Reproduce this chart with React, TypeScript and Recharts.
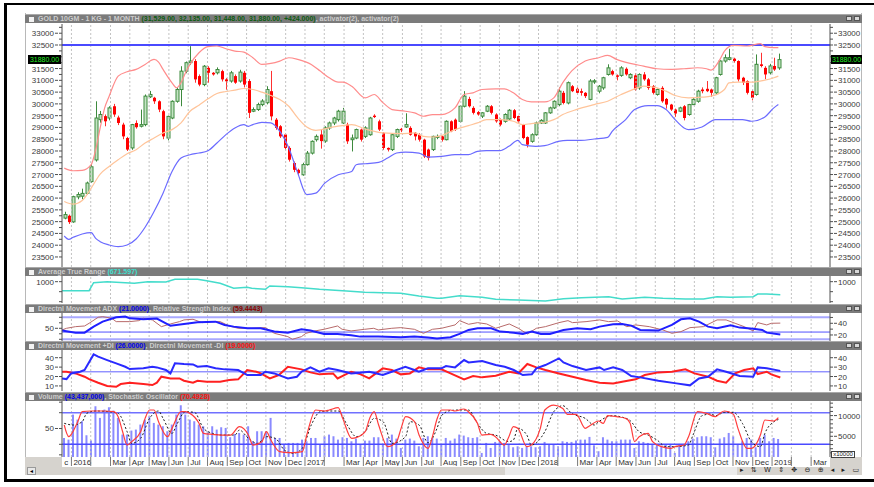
import React from 'react';
import { ComposedChart, Bar, Line, XAxis, YAxis, ReferenceLine } from 'recharts';

// weekly candles, Dec 2015 .. Jan 2019 (160 weeks)
const opens = [
  25150, 25250, 24990, 26050, 26080, 26200, 26700, 27620, 29330, 29480,
  29400, 29900, 29420, 29120, 28550, 28130, 29190, 29050, 29120, 30300,
  30260, 30110, 29690, 28550, 29400, 30110, 30610, 31390, 31750, 31820,
  31180, 30820, 31530, 31320, 31320, 31390, 31040, 30970, 31180, 30970,
  31320, 30970, 29690, 29760, 29970, 30050, 30540, 29330, 29050, 28700,
  28130, 27490, 27200, 26990, 27420, 27910, 28480, 28700, 28420, 28980,
  29190, 29330, 29190, 29120, 28480, 28550, 28910, 28620, 28690, 29500,
  29260, 28770, 28130, 28060, 28620, 28940, 29020, 28980, 28770, 28690,
  28480, 28060, 28060, 28580, 28620, 28480, 29260, 29330, 29260, 29900,
  30210, 29830, 29650, 29480, 29690, 29900, 29550, 29330, 29260, 29360,
  29730, 29480, 29120, 28590, 28410, 28690, 29190, 29190, 29620, 29830,
  29970, 30470, 30040, 30750, 30640, 30540, 30470, 30190, 30930, 30540,
  30680, 31250, 31390, 31210, 31210, 31490, 31110, 31210, 30680, 31250,
  31040, 30750, 30400, 30680, 30210, 29970, 29760, 29690, 29900, 29550,
  29970, 30110, 30610, 30640, 30610, 30470, 31250, 31820, 31890, 31920,
  31820, 31110, 30970, 30540, 30400, 31680, 31530, 31320, 31610, 31529,
];
const highs = [
  25420, 25300, 26100, 26250, 26400, 26700, 27450, 30110, 29700, 29550,
  29900, 30000, 29500, 29200, 28600, 29150, 29300, 29760, 30400, 30550,
  30300, 30150, 29750, 29500, 30150, 30700, 31600, 31800, 32450, 31900,
  31250, 31650, 31600, 31350, 31550, 31450, 31100, 31400, 31250, 31450,
  31400, 31050, 29850, 30050, 30200, 30750, 31400, 29400, 29100, 28750,
  28200, 27550, 27250, 27500, 28000, 28450, 28700, 28900, 29050, 29250,
  29450, 29750, 29830, 29200, 28700, 28950, 28950, 29050, 29450, 29560,
  29330, 28800, 28150, 28750, 28950, 28980, 29600, 29050, 28800, 28750,
  28520, 28100, 28650, 28700, 28650, 29300, 29300, 29380, 29950, 30540,
  30300, 29900, 29700, 29650, 29950, 29950, 29600, 29380, 29600, 29780,
  29780, 29500, 29150, 28620, 28750, 29250, 29350, 29650, 29880, 30150,
  30700, 30550, 30950, 30800, 30700, 30650, 30500, 31050, 31050, 30800,
  31150, 31680, 31450, 31250, 31600, 31550, 31300, 31300, 31300, 31350,
  31100, 30800, 30650, 30750, 30250, 30000, 29800, 29880, 29950, 30000,
  30250, 30600, 30700, 30970, 30650, 31150, 31850, 32100, 32340, 31960,
  31850, 31150, 31000, 30600, 32100, 32170, 31600, 31700, 31960, 32135,
];
const lows = [
  25100, 24900, 24950, 25950, 25950, 26150, 26650, 27550, 29200, 29050,
  29300, 29450, 29100, 28500, 28000, 28050, 28950, 29000, 29050, 30250,
  30000, 29650, 28500, 28450, 29350, 30050, 29900, 31300, 31650, 30900,
  30750, 30750, 30900, 31200, 31250, 30950, 30600, 30900, 30850, 30900,
  30700, 29400, 29650, 29700, 29900, 29980, 29300, 28900, 28550, 28050,
  27550, 27100, 26950, 26950, 27380, 27850, 28400, 28100, 28350, 28900,
  29100, 29250, 29150, 28300, 27980, 28500, 28400, 28550, 28650, 29400,
  28850, 28050, 27980, 28000, 28550, 28800, 28980, 28650, 28450, 28400,
  27700, 27600, 28000, 28500, 28400, 28450, 28800, 28850, 29200, 29850,
  29850, 29550, 29500, 29400, 29650, 29550, 29200, 29050, 29200, 29300,
  29350, 29200, 28500, 28150, 28350, 28650, 29150, 29150, 29580, 29780,
  29900, 29980, 29980, 30500, 30400, 30350, 30250, 30150, 30850, 30450,
  30600, 31200, 31200, 31000, 31150, 31200, 31050, 30550, 30600, 30980,
  30600, 30400, 30350, 30050, 29800, 29700, 29450, 29650, 29300, 29500,
  29950, 30050, 30450, 30500, 30300, 30400, 31200, 31750, 31850, 31750,
  30950, 30800, 30400, 30150, 30350, 31550, 31050, 31250, 31400, 31448,
];
const closes = [
  25300, 24980, 26060, 26150, 26200, 26640, 27330, 29400, 29550, 29260,
  29830, 29550, 29190, 28620, 28060, 29120, 29010, 29120, 30330, 30400,
  30110, 29760, 28620, 29470, 30110, 30610, 31390, 31750, 31820, 31040,
  30820, 31600, 31320, 31250, 31460, 31040, 30960, 31320, 30900, 31350,
  30820, 29620, 29760, 29970, 30120, 30610, 29470, 28980, 28620, 28130,
  27630, 27200, 27060, 27420, 27910, 28410, 28620, 28420, 28980, 29190,
  29400, 29690, 29690, 28410, 28550, 28910, 28480, 28980, 29400, 29440,
  28910, 28130, 28060, 28690, 28910, 28880, 29120, 28690, 28620, 28480,
  27770, 27700, 28620, 28620, 28480, 29260, 28840, 28910, 29900, 30330,
  29900, 29620, 29550, 29620, 29900, 29620, 29260, 29120, 29550, 29730,
  29400, 29260, 28550, 28270, 28690, 29190, 29300, 29620, 29830, 30110,
  30540, 30040, 30900, 30540, 30470, 30470, 30330, 30970, 30980, 30750,
  31110, 31530, 31250, 31150, 31530, 31250, 31250, 30610, 31250, 31040,
  30680, 30470, 30610, 30110, 29970, 29760, 29590, 29830, 29400, 29970,
  30190, 30540, 30540, 30540, 30470, 31110, 31820, 31960, 31960, 31820,
  31040, 30900, 30470, 30260, 31680, 31610, 31250, 31610, 31460, 31880,
];
// volume in units of 10000
const volume = [
  4600, 4200, 10240, 9030, 8630, 5250, 4000, 12250, 9440, 11450,
  12010, 11210, 9440, 5410, 5410, 6380, 6620, 7830, 9030, 9840,
  8230, 7830, 7420, 6220, 7830, 10240, 12490, 10240, 9030, 8630,
  7830, 7420, 6220, 7420, 6620, 7180, 7020, 4770, 5570, 5810,
  5410, 7420, 3800, 6220, 6220, 6220, 9440, 4600, 4600, 3160,
  3400, 3400, 3400, 4200, 3800, 4600, 4600, 3160, 5010, 5410,
  5010, 4200, 4770, 4600, 3800, 4440, 3000, 3960, 3960, 4770,
  4770, 3000, 4600, 5410, 4440, 2190, 4200, 4440, 3960, 2590,
  4600, 5010, 4600, 4440, 3000, 4600, 3960, 4440, 5410, 5170,
  4770, 4600, 4770, 980, 3400, 2190, 3640, 3800, 3400, 3000,
  2350, 2590, 2190, 2590, 2590, 2350, 2590, 3640, 3000, 3000,
  2590, 3800, 3640, 3640, 3960, 4200, 4200, 4850, 2830, 1390,
  4770, 4200, 3800, 3800, 4200, 4200, 4200, 2190, 3800, 3640,
  3400, 3000, 3000, 2750, 3000, 3160, 980, 3160, 3000, 3800,
  4440, 4770, 5010, 5010, 4770, 2350, 4440, 4770, 5810, 5010,
  3160, 3800, 4600, 4200, 2350, 4600, 5410, 3800, 4600, 4344,
];

// [week, value] readings
const bbUpper = [
  [0, 27274], [2, 27161], [4, 27175], [6, 27416], [7, 28055], [8, 28978], [9, 29830], [10, 30327],
  [12, 31179], [14, 31364], [16, 31463], [18, 31676], [20, 31889], [21, 31775], [22, 31463],
  [24, 30895], [25, 30682], [26, 30895], [27, 31321], [28, 31676], [30, 32173], [32, 32429],
  [34, 32457], [36, 32343], [38, 32244], [40, 32201], [42, 31960], [44, 31676], [46, 31719],
  [48, 31818], [50, 31960], [52, 31889], [55, 31676], [57, 31392], [59, 31108], [61, 30923],
  [62, 30923], [64, 30753], [67, 30256], [69, 30398], [71, 30043], [73, 29759], [76, 29688],
  [78, 29617], [80, 29475], [82, 29546], [84, 29546], [87, 29830], [89, 30398], [91, 30469],
  [93, 30611], [96, 30640], [98, 30640], [100, 30469], [102, 30185], [104, 30086], [107, 30086],
  [109, 30256], [111, 30900], [113, 31400], [116, 31818], [119, 31960], [121, 32059], [123, 31889],
  [126, 31719], [129, 31605], [132, 31491], [135, 31463], [138, 31491], [141, 31534], [143, 31491],
  [144, 31435], [146, 31889], [147, 32244], [149, 32485], [152, 32457], [155, 32556], [156, 32429],
  [158, 32386], [159, 32386],
];
const bbMiddle = [
  [0, 25854], [2, 25741], [4, 25897], [6, 26422], [8, 27019], [10, 27345], [12, 27629], [14, 27885],
  [16, 28055], [18, 28339], [20, 28552], [22, 28765], [24, 28907], [26, 29191], [28, 29688],
  [30, 29944], [32, 30213], [34, 30441], [36, 30526], [38, 30583], [40, 30654], [42, 30611],
  [44, 30497], [46, 30355], [48, 30185], [50, 29901], [52, 29404], [54, 29021], [56, 28879],
  [60, 29021], [64, 29120], [67, 28935], [71, 28765], [75, 28737], [78, 28765], [80, 28623],
  [82, 28594], [84, 28652], [87, 28907], [90, 29078], [92, 29191], [94, 29333], [97, 29333],
  [100, 29262], [102, 29120], [104, 29163], [107, 29220], [109, 29333], [111, 29546], [114, 29759],
  [118, 29972], [121, 30114], [124, 30398], [127, 30640], [129, 30753], [132, 30682], [134, 30540],
  [136, 30355], [139, 30256], [142, 30284], [144, 30327], [147, 30611], [148, 30895], [150, 30923],
  [153, 30923], [156, 31009], [158, 31108], [159, 31179],
];
const bbLower = [
  [0, 24391], [1, 24249], [2, 24335], [4, 24477], [6, 24533], [7, 24292], [8, 24150], [10, 24008],
  [12, 23937], [14, 24008], [16, 24264], [18, 24761], [20, 25428], [22, 26209], [24, 27132],
  [26, 27700], [28, 27842], [30, 27913], [32, 28012], [34, 28339], [36, 28694], [38, 28978],
  [40, 29120], [41, 29049], [42, 29120], [44, 29219], [46, 29191], [48, 28836], [50, 28126],
  [52, 27061], [54, 26150], [56, 26209], [58, 26635], [61, 26990], [64, 27132], [65, 27416],
  [67, 27459], [70, 27515], [72, 27700], [74, 27913], [76, 27955], [79, 27913], [81, 27743],
  [84, 27771], [87, 27842], [90, 27842], [92, 27984], [94, 28012], [97, 28012], [99, 28197],
  [101, 28453], [102, 28268], [105, 28197], [107, 28225], [110, 28410], [112, 28453], [115, 28453],
  [118, 28509], [121, 28580], [122, 28836], [125, 29333], [127, 29759], [130, 29929], [132, 29929],
  [134, 29759], [136, 29333], [138, 28978], [139, 28907], [142, 29021], [145, 29333], [148, 29333],
  [151, 29333], [153, 29262], [156, 29447], [158, 29830], [159, 29972],
];
const atr = [
  [0, 775], [6, 775], [7, 975], [10, 1000], [16, 960], [19, 1000], [23, 990], [25, 1060], [30, 1060],
  [32, 1025], [35, 960], [38, 835], [41, 860], [42, 835], [45, 810], [46, 892], [50, 875], [53, 850],
  [57, 810], [63, 767], [67, 735], [75, 710], [79, 642], [83, 585], [84, 585], [88, 650], [93, 610],
  [96, 560], [101, 542], [107, 517], [111, 575], [115, 600], [121, 625], [124, 567], [129, 610],
  [133, 585], [138, 567], [142, 567], [145, 625], [148, 610], [153, 625], [154, 692], [156, 692],
  [159, 672],
];
const adx = [
  [0, 27.5], [3, 24], [5, 24], [7, 34.3], [9, 42.8], [12, 50.3], [14, 51.4], [15, 48.5], [18, 46.8],
  [21, 48], [23, 40], [24, 36], [27, 38.9], [30, 41.7], [34, 42.8], [36, 37.2], [38, 34.3], [41, 31.5],
  [44, 31.5], [47, 25.8], [50, 24], [53, 29.7], [55, 27.5], [58, 21.8], [61, 21.8], [64, 19.5],
  [66, 17.2], [70, 17.2], [75, 16.1], [78, 17.2], [81, 15.5], [83, 13.8], [86, 16.1], [88, 21.8],
  [90, 28.6], [92, 31.5], [95, 31.5], [97, 25.8], [100, 24], [102, 21.8], [104, 25.8], [106, 21.8],
  [108, 21.8], [111, 28.6], [114, 31.5], [117, 29.7], [119, 34.3], [122, 38.3], [124, 38.9],
  [126, 36], [128, 28.6], [132, 27.5], [135, 37.2], [137, 46.8], [139, 48.5], [141, 42.8], [143, 34.3],
  [145, 31.5], [148, 36.5], [150, 32.6], [153, 30.5], [155, 28.6], [156, 24], [159, 21],
];
const rsi = [
  [0, 47], [1, 50], [3, 53], [5, 54.2], [6, 59.1], [8, 70], [9, 71.2], [11, 68.2], [12, 62.1], [15, 62.1],
  [17, 63.9], [18, 68.2], [20, 65.2], [22, 53], [24, 57.9], [26, 62.1], [27, 65.2], [29, 66.4],
  [31, 60.3], [33, 62.1], [35, 62.1], [37, 54.2], [39, 50], [42, 50], [45, 51.2], [47, 40.9],
  [50, 34.8], [51, 30], [53, 34.8], [54, 40.9], [56, 45.2], [58, 48.2], [61, 54.2], [62, 48.2],
  [64, 45.2], [67, 48.2], [69, 50], [70, 47], [73, 50], [75, 51.2], [78, 48.2], [80, 40.9], [82, 48.2],
  [84, 50], [87, 56.1], [88, 63.9], [90, 57.3], [92, 60.3], [94, 57.9], [96, 50], [99, 57.9], [101, 50],
  [103, 39.7], [105, 50], [107, 53], [110, 60.3], [112, 63.9], [113, 60.3], [116, 62.1], [119, 65.2],
  [121, 62.1], [123, 63.3], [125, 53], [127, 56.1], [130, 53], [133, 47], [135, 40.9], [137, 43.9],
  [139, 51.2], [142, 53], [145, 65.2], [147, 65.2], [149, 59.1], [151, 53], [153, 45.2], [154, 60.3],
  [156, 56.1], [157, 59.1], [159, 59.4],
];
const plusDI = [
  [0, 18], [1, 17.3], [2, 23.3], [4, 25.1], [5, 26.9], [7, 43.5], [8, 41.1], [10, 37.5], [12, 34],
  [14, 30.4], [15, 27.9], [18, 28.7], [20, 30.4], [21, 29.7], [23, 26.9], [24, 23.3], [25, 34],
  [27, 33.3], [29, 32.9], [30, 30.4], [32, 31.1], [34, 28.7], [36, 27.6], [39, 26.9], [41, 21.6],
  [44, 21.6], [45, 25.1], [47, 23.3], [50, 18], [52, 19.8], [53, 25.1], [55, 29.7], [57, 25.1],
  [59, 28.7], [61, 26.9], [64, 23.3], [66, 24], [68, 25.1], [71, 21.6], [73, 25.1], [76, 30.4],
  [78, 26.9], [79, 25.1], [81, 28.7], [84, 28.7], [85, 31.1], [87, 29.7], [89, 37.5], [90, 35],
  [93, 36.5], [96, 32.2], [98, 30.4], [100, 26.9], [102, 21.6], [104, 22.3], [105, 28.7], [107, 32.2],
  [110, 39.3], [111, 35], [113, 31.1], [116, 26.9], [119, 29.7], [120, 26.9], [122, 29.7], [124, 26.9],
  [126, 20.5], [128, 19.1], [132, 15.5], [136, 12.7], [139, 10.6], [141, 18], [143, 19.8], [145, 27.6],
  [147, 25.1], [150, 20.5], [153, 19.8], [154, 29.7], [156, 28.7], [159, 26],
];
const minusDI = [
  [0, 25.1], [1, 25.1], [3, 23.3], [5, 19.8], [6, 17.3], [8, 13.4], [10, 9.9], [12, 9.1], [13, 12],
  [15, 13.4], [18, 12], [20, 10.9], [21, 13.4], [22, 19.8], [24, 18], [26, 18], [27, 15.5], [29, 13.4],
  [30, 15.5], [32, 14.5], [35, 14.5], [37, 16.2], [39, 17], [41, 26.9], [43, 25.1], [44, 23.3],
  [46, 18], [48, 21.6], [50, 30.4], [53, 27.6], [55, 24.4], [57, 22.3], [60, 23.3], [61, 18],
  [64, 25.1], [66, 22.6], [68, 18], [71, 28.7], [73, 26.9], [75, 22.3], [77, 23.3], [79, 29.7],
  [81, 27.6], [84, 27.6], [86, 23.3], [89, 17], [91, 20.5], [93, 19.1], [96, 20.9], [99, 25.1],
  [101, 23.3], [103, 33.3], [105, 29.7], [107, 26.9], [110, 23.3], [113, 19.8], [116, 16.2],
  [119, 13.4], [122, 12.7], [124, 14.5], [127, 17], [129, 21.6], [132, 24.4], [135, 25.1], [138, 27.6],
  [140, 23.3], [143, 19.8], [145, 15.5], [147, 13.4], [149, 23.3], [151, 26.9], [153, 28.7],
  [154, 22.6], [156, 25.1], [157, 22.3], [159, 19],
];
const stochK = [
  [0, 56.6], [1, 34.5], [3, 62.9], [4, 81.9], [6, 83.2], [9, 83.2], [11, 81.9], [12, 72.4], [13, 43.9],
  [14, 18.6], [15, 25], [17, 43.9], [18, 69.2], [19, 85.1], [20, 85.1], [21, 62.9], [23, 34.5],
  [24, 50.3], [26, 81.9], [27, 81.9], [28, 78.7], [30, 59.8], [31, 40.8], [33, 38.9], [35, 37.6],
  [37, 37.6], [39, 53.4], [41, 37.6], [42, 18.6], [44, 25], [45, 43.9], [46, 28.1], [48, 6], [50, 4.1],
  [51, 4.1], [53, 6], [54, 37.6], [56, 85.1], [58, 83.2], [59, 85.1], [61, 89.5], [62, 69.2], [64, 31.3],
  [65, 32.6], [67, 43.9], [68, 69.2], [69, 81.9], [70, 56.6], [72, 15.5], [74, 25], [75, 50.3],
  [76, 72.4], [78, 62.9], [79, 37.6], [81, 12.3], [82, 35], [83, 68], [84, 85.1], [86, 85.1],
  [87, 83.2], [89, 87], [90, 81.9], [92, 59.8], [93, 37.6], [95, 38.9], [96, 34.5], [98, 18.6],
  [99, 34.5], [100, 53.4], [101, 50.3], [103, 15.5], [104, 18.6], [106, 50.3], [107, 85.1], [109, 94.5],
  [111, 88], [112, 76.8], [114, 76.8], [116, 50.3], [117, 55.3], [119, 64.2], [120, 59.8], [121, 74.3],
  [123, 72.4], [125, 69.2], [126, 59.8], [127, 25], [128, 34.5], [130, 40.8], [131, 25], [133, 15.5],
  [135, 12.3], [136, 15.5], [138, 18.6], [139, 34.5], [141, 81.9], [143, 78.7], [145, 72.4], [146, 78.7],
  [147, 83.2], [149, 76.8], [150, 50.3], [152, 12.3], [153, 12.3], [155, 37.6], [156, 66.1], [158, 64.2],
  [159, 70.5],
];
const stochD = [
  [0, 59.8], [2, 56.6], [4, 62.9], [5, 78.7], [7, 83.2], [10, 81.9], [12, 78.7], [14, 43.9], [15, 21.8],
  [17, 31.3], [19, 69.2], [21, 83.2], [22, 69.2], [24, 40.8], [25, 56.6], [27, 81.9], [29, 80.6],
  [31, 50.3], [33, 40.8], [35, 37.6], [38, 37.6], [39, 47.1], [41, 31.3], [43, 21.8], [45, 34.5],
  [47, 31.3], [49, 9.2], [51, 2.9], [53, 12.3], [55, 56.6], [57, 81.9], [59, 83.2], [61, 83.2],
  [63, 56.6], [65, 34.5], [67, 43.9], [69, 69.2], [71, 62.9], [73, 21.8], [76, 34.5], [77, 62.9],
  [79, 56.6], [81, 23], [83, 50.3], [84, 74.3], [86, 84.1], [88, 85.1], [90, 85.1], [92, 59.8],
  [94, 40.8], [96, 37.6], [99, 25], [100, 28.1], [101, 50.3], [103, 37.6], [104, 18.6], [107, 43.9],
  [109, 81.9], [111, 93.3], [113, 78.7], [116, 69.2], [118, 56.6], [119, 62.9], [122, 74.3], [124, 72],
  [126, 65], [128, 43.9], [130, 37.6], [132, 28.1], [134, 15.5], [136, 15.5], [139, 18.6], [140, 37.6],
  [142, 74.3], [144, 77.5], [145, 74.3], [147, 80.6], [149, 80.6], [151, 59.8], [153, 25], [155, 15.5],
  [156, 40.8], [158, 62.9], [159, 67],
];

// month starts (in weeks) and their labels; '' = separator only
const monthPos = [
  -0.45, 1.6, 5.9, 10.3, 14.6, 18.9, 23.3, 27.6, 31.9, 36.3, 40.6, 44.9, 49.3,
  53.6, 57.9, 62.3, 66.6, 70.9, 75.3, 79.6, 83.9, 88.3, 92.6, 96.9, 101.3,
  105.6, 109.9, 114.3, 118.6, 122.9, 127.3, 131.6, 135.9, 140.3, 144.6, 148.9, 153.3,
  157.6, 161.9, 166.3,
];
const monthLabels = [
  'c', '2016', '', 'Mar', 'Apr', 'May', 'Jun', 'Jul', 'Aug', 'Sep', 'Oct', 'Nov', 'Dec',
  '2017', '', 'Mar', 'Apr', 'May', 'Jun', 'Jul', 'Aug', 'Sep', 'Oct', 'Nov', 'Dec',
  '2018', '', 'Mar', 'Apr', 'May', 'Jun', 'Jul', 'Aug', 'Sep', 'Oct', 'Nov', 'Dec',
  '2019', '', 'Mar',
];

// 32000 sits under the last-price box, so it carries no label
const priceLabels = [23500, 24000, 24500, 25000, 25500, 26000, 26500, 27000, 27500, 28000,
  28500, 29000, 29500, 30000, 30500, 31000, 31500, 32500, 33000];
const priceTicks = [...priceLabels, 32000].flatMap((v) => [v, v + 250]);

const WEEKS = 171;
const PLOT_L = 62;
const PLOT_R = 830;
const FONT = '"Liberation Sans", Arial, sans-serif';
const M = { top: 0, right: 12, bottom: 0, left: 22 };

const rows: any[] = Array.from({ length: WEEKS }, (_, i) => ({ i }));
opens.forEach((o, i) => {
  Object.assign(rows[i], { o, h: highs[i], l: lows[i], c: closes[i], vol: volume[i] });
});
const put = (key: string, pts: number[][]) => pts.forEach(([i, v]) => { rows[i][key] = v; });
put('bbU', bbUpper);
put('bbM', bbMiddle);
put('bbL', bbLower);
put('atr', atr);
put('adx', adx);
put('rsi', rsi);
put('pdi', plusDI);
put('mdi', minusDI);
put('k', stochK);
put('d', stochD);

const Candle = (props: any) => {
  const { x, y, width, height, payload } = props;
  if (!payload || payload.o == null) return <g />;
  const top = Math.min(y, y + height);
  const h = Math.abs(height);
  const hi = Math.max(payload.h, payload.o, payload.c);
  const lo = Math.min(payload.l, payload.o, payload.c);
  const span = hi - lo || 1;
  const py = (v: number) => top + ((hi - v) / span) * h;
  const up = payload.c >= payload.o;
  const cx = Math.round(x + width / 2);
  const bTop = py(Math.max(payload.o, payload.c));
  const bH = Math.max(1, py(Math.min(payload.o, payload.c)) - bTop);
  const col = up ? '#3d8a3d' : '#ff0000';
  return (
    <g>
      <line x1={cx + 0.5} x2={cx + 0.5} y1={top} y2={top + h} stroke={up ? '#3d8a3d' : '#ff3030'} strokeWidth={1} />
      {up ? (
        <rect x={cx - 1} y={bTop} width={3} height={bH} fill="#c4e4c4" stroke={col} strokeWidth={1} />
      ) : (
        <rect x={cx - 1} y={bTop} width={3} height={bH} fill={col} />
      )}
    </g>
  );
};

const yTick = (side: 'left' | 'right', labels: number[]) => (p: any) => {
  const v = p.payload.value;
  const y = p.y;
  const major = labels.includes(v);
  const left = side === 'left';
  const x0 = left ? PLOT_L : PLOT_R;
  const dir = left ? -1 : 1;
  return (
    <g>
      <line x1={x0} x2={x0 + dir * 3} y1={y} y2={y} stroke="#505050" />
      {major && <line x1={x0 + dir * 4} x2={x0 + dir * 7} y1={y} y2={y} stroke="#505050" />}
      {major && (
        <text x={x0 + dir * 8} y={y + 3} textAnchor={left ? 'end' : 'start'} fontSize={8}
          fontFamily={FONT} fill="#3a3a3a">{v}</text>
      )}
    </g>
  );
};

const MonthTick = (p: any) => {
  const v = p.payload.value;
  const idx = monthPos.indexOf(v);
  const label = idx >= 0 ? monthLabels[idx] : '';
  const x = p.x;
  return (
    <g>
      {label !== 'c' && <line x1={x} x2={x} y1={56} y2={65} stroke="#7a7a7a" />}
      <text x={x + 2} y={63.5} fontSize={8} fontFamily={FONT} fill="#303030">{label}</text>
    </g>
  );
};

const gridLines = (yId: string) =>
  monthPos.slice(1).map((w) => (
    <ReferenceLine key={w} xAxisId="t" yAxisId={yId} x={w} stroke="#c2c2c2" strokeDasharray="2 2" />
  ));

const xAxes = [
  <XAxis key="c" dataKey="i" hide />,
  <XAxis key="t" xAxisId="t" dataKey="i" type="number" domain={[-0.5, WEEKS - 0.5]} hide allowDataOverflow />,
];

const line = (key: string, yId: string, stroke: string, width: number, curve: any = 'linear', dash?: string) => (
  <Line yAxisId={yId} dataKey={key} stroke={stroke} strokeWidth={width} type={curve}
    strokeDasharray={dash} dot={false} activeDot={false} connectNulls isAnimationActive={false} />
);

const axisProps = (id: string, side: 'left' | 'right', domain: number[], ticks: number[], labels: number[]) => ({
  yAxisId: id,
  orientation: side,
  width: side === 'left' ? 40 : 32,
  type: 'number' as const,
  domain,
  ticks,
  interval: 0 as const,
  allowDataOverflow: true,
  tickLine: false,
  axisLine: { stroke: '#505050' },
  tick: yTick(side, labels),
});

const TitleBar = ({ top, parts }: { top: number; parts: { t: string; c?: string }[] }) => (
  <div style={{
    position: 'absolute', left: 25, top, width: 837, height: 9, background: '#7b7b7b',
    borderTop: '1px solid #a9a9a9', boxSizing: 'border-box', font: `bold 7px ${FONT}`,
    lineHeight: '8px', color: '#cdcdcd', whiteSpace: 'nowrap', overflow: 'hidden',
  }}>
    <span style={{ display: 'inline-block', width: 5, height: 5, background: '#f2f2f2', margin: '0 4px 0 4px', verticalAlign: 'middle' }} />
    {parts.map((p, k) => <span key={k} style={{ color: p.c || '#cdcdcd' }}>{p.t}</span>)}
    <span style={{ position: 'absolute', right: 10, top: 1, width: 6, height: 5, background: '#d8d8d8', border: '1px solid #555', boxSizing: 'border-box' }} />
    <span style={{ position: 'absolute', right: 2, top: 1, width: 6, height: 5, background: '#d8d8d8', border: '1px solid #555', boxSizing: 'border-box' }} />
  </div>
);

const PriceBox = ({ left, width }: { left: number; width: number }) => (
  <div style={{
    position: 'absolute', left, top: 55, width, height: 9, background: '#000', color: '#22ee22',
    font: `7px ${FONT}`, lineHeight: '9px', textAlign: 'center', overflow: 'hidden', whiteSpace: 'nowrap',
  }}>31880.00</div>
);

const Pane = ({ top, children }: { top: number; children: React.ReactNode }) => (
  <div style={{ position: 'absolute', left: 0, top }}>{children}</div>
);

export default function App() {
  return (
    <div style={{ position: 'absolute', left: 0, top: 0, width: 874, height: 487, background: '#fff', overflow: 'hidden' }}>
      <div style={{ position: 'absolute', left: 4, top: 3, width: 890, height: 479, borderLeft: '3px solid #000', borderTop: '2px solid #000', borderBottom: '3px solid #000', boxSizing: 'border-box' }} />
      <div style={{ position: 'absolute', left: 25, top: 13, width: 837, height: 462, borderLeft: '1px solid #b8b8b8', borderRight: '1px solid #b8b8b8', boxSizing: 'border-box' }} />

      {/* x label row and scroll bar */}
      <div style={{ position: 'absolute', left: 25, top: 457, width: 37, height: 10, background: '#d6d3ce' }} />
      <div style={{ position: 'absolute', left: 830, top: 457, width: 32, height: 10, background: '#d6d3ce' }} />
      <div style={{ position: 'absolute', left: 25, top: 467, width: 837, height: 8, background: '#d6d3ce' }} />
      <div style={{ position: 'absolute', left: 505, top: 467, width: 232, height: 8, background: '#ebebeb' }} />
      <div style={{ position: 'absolute', left: 27, top: 467, width: 9, height: 8, background: '#e8e8e8', border: '1px solid #999', boxSizing: 'border-box', font: `6px ${FONT}`, lineHeight: '6px', textAlign: 'center' }}>◂</div>
      <div style={{ position: 'absolute', left: 740, top: 466, width: 122, height: 9, font: `7px "DejaVu Sans", sans-serif`, lineHeight: '9px', color: '#222', display: 'flex', justifyContent: 'space-between', paddingRight: 3, boxSizing: 'border-box' }}>
        <span>▸</span><span>⇅</span><span>W</span><span>⇕</span><span>✥</span><span>⊖</span><span>⊕</span><span>◂</span><span>▸</span><span>▭</span>
      </div>

      <TitleBar top={14} parts={[
        { t: 'GOLD 10GM - 1 KG - 1 MONTH ' },
        { t: '(31,529.00, 32,135.00, 31,448.00, 31,880.00, +424.000)', c: '#0c5c10' },
        { t: ', activator(2), activator(2)' },
      ]} />
      <TitleBar top={267} parts={[{ t: 'Average True Range ' }, { t: '(671.597)', c: '#40e0d0' }]} />
      <TitleBar top={304} parts={[
        { t: 'Directnl Movement ADX ' }, { t: '(21.0000)', c: '#0000ee' },
        { t: ', Relative Strength Index ' }, { t: '(59.4443)', c: '#8b0000' },
      ]} />
      <TitleBar top={341} parts={[
        { t: 'Directnl Movement +DI ' }, { t: '(26.0000)', c: '#0000ee' },
        { t: ', Directnl Movement -DI ' }, { t: '(19.0000)', c: '#ff1010' },
      ]} />
      <TitleBar top={392} parts={[
        { t: 'Volume ' }, { t: '(43,437,000)', c: '#0000ee' },
        { t: ', Stochastic Oscillator ' }, { t: '(70.4928)', c: '#ff1010' },
      ]} />

      {/* price pane */}
      <Pane top={24}>
        <ComposedChart width={874} height={243} data={rows} margin={M}>
          {xAxes}
          <YAxis {...axisProps('l', 'left', [23074, 33392], priceTicks, priceLabels)} />
          <YAxis {...axisProps('r', 'right', [23074, 33392], priceTicks, priceLabels)} />
          {gridLines('l')}
          <ReferenceLine yAxisId="l" y={32500} stroke="#4a4aff" strokeWidth={2} />
          {line('bbU', 'l', '#ff8c8c', 1.2, 'monotone')}
          {line('bbM', 'l', '#ffc49a', 1.2, 'monotone')}
          {line('bbL', 'l', '#6b6bff', 1.2, 'monotone')}
          <Bar yAxisId="l" dataKey={(d: any) => (d.o == null ? null : [d.l, d.h])} barSize={3}
            shape={Candle} isAnimationActive={false} />
        </ComposedChart>
      </Pane>
      <PriceBox left={28} width={33} />
      <PriceBox left={831} width={31} />

      {/* ATR */}
      <Pane top={276}>
        <ComposedChart width={874} height={27} data={rows} margin={M}>
          {xAxes}
          <YAxis {...axisProps('l', 'left', [467, 1142], [500, 750, 1000], [1000])} />
          <YAxis {...axisProps('r', 'right', [467, 1142], [500, 750, 1000], [1000])} />
          {gridLines('l')}
          {line('atr', 'l', '#44dccb', 1.5)}
        </ComposedChart>
      </Pane>

      {/* ADX / RSI */}
      <Pane top={313}>
        <ComposedChart width={874} height={28} data={rows} margin={M}>
          {xAxes}
          <YAxis {...axisProps('l', 'left', [26.9, 77.8], [30, 40, 50, 60, 70], [50])} />
          <YAxis {...axisProps('r', 'right', [9.7, 57.6], [20, 30, 40, 50], [20, 40])} />
          {gridLines('l')}
          <ReferenceLine yAxisId="l" y={70} stroke="#a8a8ff" strokeWidth={2} />
          <ReferenceLine yAxisId="l" y={30} stroke="#a8a8ff" strokeWidth={2} />
          <ReferenceLine yAxisId="r" y={25} stroke="#5050ff" strokeWidth={1} />
          {line('rsi', 'l', '#b86a6a', 1)}
          {line('adx', 'r', '#1f1fff', 2)}
        </ComposedChart>
      </Pane>

      {/* +DI / -DI */}
      <Pane top={350}>
        <ComposedChart width={874} height={41} data={rows} margin={M}>
          {xAxes}
          <YAxis {...axisProps('l', 'left', [4.6, 48.2], [10, 20, 30, 40], [10, 20, 30, 40])} />
          <YAxis {...axisProps('r', 'right', [4.6, 48.2], [10, 20, 30, 40], [10, 20, 30, 40])} />
          {gridLines('l')}
          <ReferenceLine yAxisId="l" y={25} stroke="#6060ff" strokeWidth={1} />
          {line('mdi', 'l', '#ff2020', 2)}
          {line('pdi', 'l', '#2a2aff', 2)}
        </ComposedChart>
      </Pane>

      {/* Volume / Stochastic */}
      <Pane top={401}>
        <ComposedChart width={874} height={65} data={rows} margin={M}>
          <XAxis dataKey="i" hide />
          <XAxis xAxisId="t" dataKey="i" type="number" domain={[-0.5, WEEKS - 0.5]} allowDataOverflow
            ticks={monthPos} interval={0} height={9} tickLine={false} axisLine={{ stroke: '#505050' }}
            tick={MonthTick} />
          <YAxis {...axisProps('l', 'left', [-4.1, 102.2], [0, 20, 50, 80, 100], [50])} />
          <YAxis {...axisProps('v', 'right', [0, 13520], [1000, 2000, 3000, 4000, 5000, 6000, 7000, 8000, 9000, 10000, 11000, 12000, 13000], [5000, 10000])} />
          {gridLines('l')}
          <Bar yAxisId="v" dataKey="vol" barSize={2} fill="#8a8aff" isAnimationActive={false} />
          <ReferenceLine yAxisId="l" y={80} stroke="#7070ff" strokeWidth={1.5} />
          <ReferenceLine yAxisId="l" y={20} stroke="#4a4aff" strokeWidth={1.5} />
          {line('d', 'l', '#202020', 1, 'monotone', '2 2')}
          {line('k', 'l', '#ff3c3c', 1.2, 'monotone')}
        </ComposedChart>
      </Pane>
      <div style={{ position: 'absolute', left: 831, top: 451, width: 24, height: 7, border: '1px solid #404040', boxSizing: 'border-box', background: '#fff', font: `6px ${FONT}`, lineHeight: '5px', textAlign: 'center', color: '#222' }}>x10000</div>
    </div>
  );
}
